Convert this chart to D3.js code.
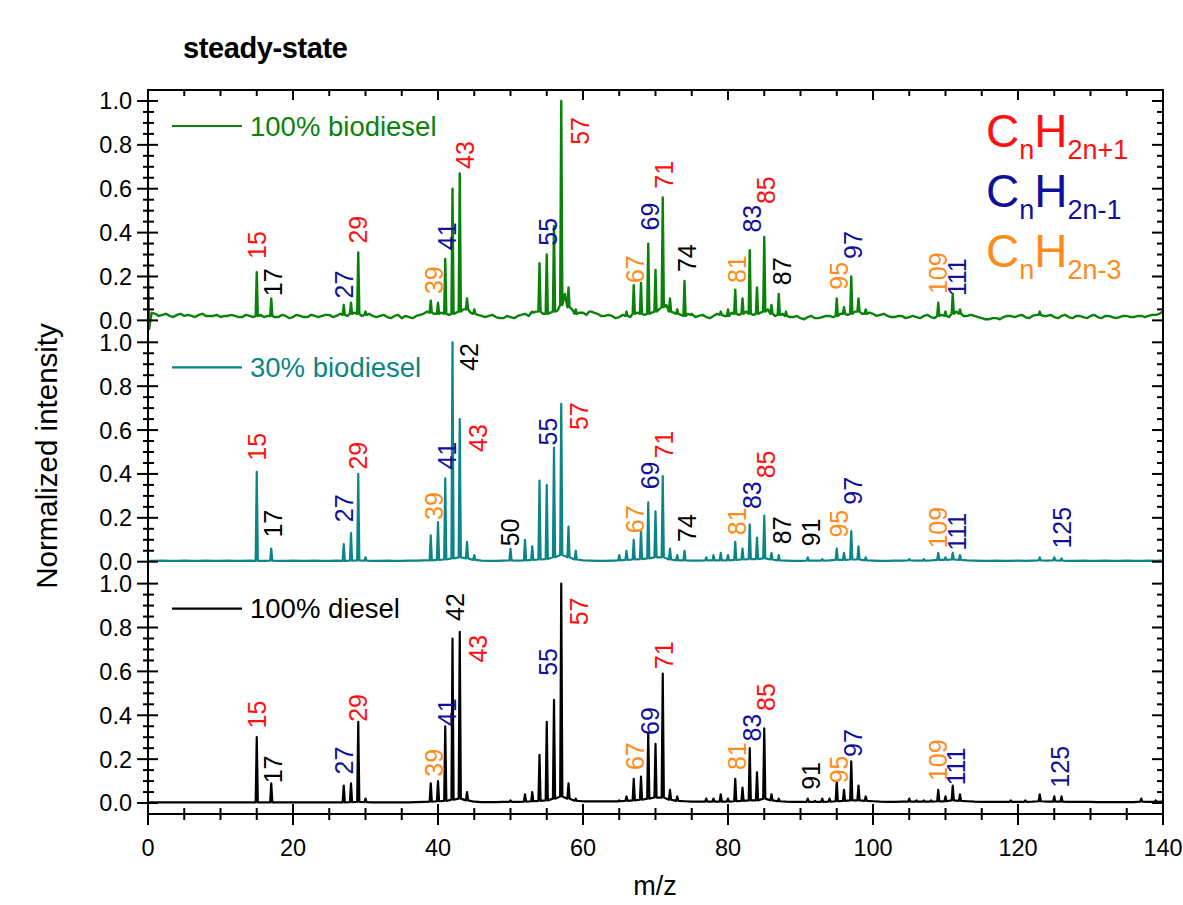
<!DOCTYPE html>
<html><head><meta charset="utf-8">
<script src="https://cdn.jsdelivr.net/npm/d3@7/dist/d3.min.js"></script>
<style>
body{margin:0;background:#fff;}
svg text{font-family:"Liberation Sans",Arial,sans-serif;}
</style></head>
<body><svg id="c" width="1183" height="905"></svg>
<script>
// ---------------- DATA ----------------
const chartTitle = "steady-state";
const xLabel = "m/z";
const yLabel = "Normalized intensity";
const seriesNames = ["100% biodiesel", "30% biodiesel", "100% diesel"];
const xTicks = [0, 20, 40, 60, 80, 100, 120, 140];
const yTicks = [0.0, 0.2, 0.4, 0.6, 0.8, 1.0];
const formulaBase = ["C", "H"];
const formulaSubs = [["n", "2n+1"], ["n", "2n-1"], ["n", "2n-3"]];

// peak intensities [m/z, value]
const peaksBio100 = [[0,0.27],[15,0.22],[17,0.10],[27,0.07],[28,0.08],[29,0.31],[30,0.04],[39,0.09],[40,0.08],[41,0.28],[42,0.60],[43,0.67],[44,0.10],[45,0.05],
  [53,0.04],[54,0.26],[55,0.30],[56,0.43],[57,1.0],[58,0.15],[59,0.05],[61,0.04],[66,0.04],[67,0.16],[68,0.17],[69,0.35],[70,0.23],[71,0.56],[72,0.10],[73,0.05],[74,0.18],[75,0.03],
  [79,0.04],[80,0.05],[81,0.14],[82,0.10],[83,0.32],[84,0.15],[85,0.38],[86,0.07],[87,0.12],[88,0.04],[95,0.10],[96,0.06],[97,0.20],[98,0.10],[99,0.05],
  [109,0.08],[110,0.04],[111,0.12],[112,0.05],[123,0.04]];
const peaksBio30 = [[15,0.41],[17,0.06],[27,0.08],[28,0.13],[29,0.40],[30,0.02],[39,0.12],[40,0.18],[41,0.38],[42,1.0],[43,0.65],[44,0.09],[45,0.03],
  [50,0.06],[52,0.10],[53,0.07],[54,0.37],[55,0.35],[56,0.52],[57,0.72],[58,0.16],[59,0.05],[65,0.03],[66,0.05],[67,0.10],[68,0.14],[69,0.27],[70,0.23],[71,0.39],[72,0.06],[73,0.03],[74,0.05],
  [77,0.02],[78,0.03],[79,0.04],[80,0.03],[81,0.09],[82,0.06],[83,0.17],[84,0.11],[85,0.21],[86,0.04],[87,0.03],[91,0.02],[93,0.012],[95,0.06],[96,0.04],[97,0.14],[98,0.07],[99,0.02],
  [105,0.012],[107,0.012],[109,0.04],[110,0.02],[111,0.04],[112,0.03],[123,0.02],[125,0.02],[126,0.015]];
const peaksDiesel = [[15,0.30],[17,0.09],[27,0.08],[28,0.09],[29,0.37],[30,0.02],[39,0.09],[40,0.10],[41,0.35],[42,0.75],[43,0.78],[44,0.05],
  [50,0.012],[52,0.04],[53,0.05],[54,0.22],[55,0.37],[56,0.47],[57,1.0],[58,0.09],[59,0.02],[65,0.012],[66,0.03],[67,0.11],[68,0.12],[69,0.32],[70,0.27],[71,0.59],[72,0.06],[73,0.03],
  [77,0.02],[78,0.02],[79,0.04],[80,0.02],[81,0.11],[82,0.07],[83,0.25],[84,0.14],[85,0.34],[86,0.04],[87,0.02],[91,0.02],[92,0.01],[93,0.02],[94,0.02],[95,0.10],[96,0.06],[97,0.19],[98,0.08],[99,0.03],
  [105,0.02],[106,0.012],[107,0.012],[108,0.012],[109,0.06],[110,0.03],[111,0.08],[112,0.04],[119,0.012],[121,0.012],[123,0.04],[125,0.03],[126,0.03],[137,0.02],[139,0.012]];

// baseline level at each integer m/z 0..140
const floorBio100 = [
 -0.04,0.03,0.025,0.02,0.025,0.02,0.02,0.025,0.02,0.02,
 0.015,0.02,0.02,0.015,0.02,0.02,0.015,0.02,0.015,0.02,
 0.015,0.02,0.015,0.02,0.02,0.025,0.02,0.025,0.03,0.03,
 0.025,0.02,0.02,0.015,0.02,0.01,0.015,0.02,0.03,0.035,
 0.03,0.03,0.03,0.04,0.05,0.03,0.02,0.02,0.015,0.01,
 0.015,0.02,0.03,0.035,0.04,0.03,0.04,0.07,0.06,0.03,
 0.035,0.04,0.03,0.02,0.02,0.015,0.02,0.03,0.03,0.03,
 0.04,0.06,0.04,0.03,0.02,0.025,0.02,0.015,0.02,0.025,
 0.02,0.03,0.03,0.03,0.03,0.04,0.03,0.025,0.02,0.015,
 0.01,0.015,0.01,0.015,0.02,0.02,0.03,0.03,0.04,0.03,
 0.03,0.025,0.02,0.015,0.02,0.015,0.015,0.02,0.015,0.02,
 0.02,0.03,0.03,0.02,0.02,0.01,0.005,0.01,0.015,0.02,
 0.02,0.015,0.02,0.025,0.02,0.015,0.02,0.015,0.02,0.015,
 0.02,0.015,0.02,0.015,0.015,0.02,0.015,0.02,0.02,0.025,
 0.04];
// signal level half-way between integer m/z (m+0.5), m = 0..139 (noisy baseline)
const midBio100 = [
 0.035,0.02,0.03,0.015,0.03,0.025,0.015,0.03,0.02,0.025,
 0.02,0.025,0.015,0.025,0.015,0.025,0.02,0.015,0.025,0.01,
 0.025,0.015,0.025,0.015,0.025,0.015,0.03,0.02,0.035,0.02,
 0.03,0.015,0.025,0.01,0.025,0.02,0.01,0.025,0.04,0.03,
 0.035,0.025,0.035,0.05,0.035,0.025,0.015,0.025,0.01,0.02,
 0.01,0.025,0.02,0.04,0.03,0.035,0.045,0.12,0.05,0.035,
 0.025,0.035,0.02,0.025,0.01,0.025,0.015,0.035,0.025,0.035,
 0.05,0.07,0.035,0.025,0.03,0.015,0.025,0.01,0.03,0.02,
 0.035,0.025,0.04,0.025,0.035,0.05,0.02,0.03,0.015,0.02,
 0.005,0.02,0.01,0.02,0.015,0.03,0.025,0.04,0.03,0.035,
 0.02,0.03,0.015,0.02,0.01,0.02,0.01,0.025,0.01,0.025,
 0.015,0.04,0.02,0.025,0.015,0.005,0.01,0.005,0.02,0.015,
 0.025,0.01,0.025,0.02,0.025,0.01,0.025,0.01,0.02,0.01,
 0.025,0.01,0.02,0.01,0.02,0.015,0.02,0.015,0.025,0.03];
const floorBio30 = [
 0.004,0.004,0.005,0.004,0.004,0.005,0.004,0.004,0.005,0.004,
 0.004,0.005,0.004,0.004,0.005,0.004,0.004,0.005,0.004,0.004,
 0.005,0.004,0.004,0.005,0.004,0.004,0.005,0.004,0.005,0.006,
 0.005,0.004,0.004,0.005,0.004,0.004,0.005,0.005,0.006,0.006,
 0.008,0.01,0.015,0.02,0.015,0.008,0.005,0.004,0.004,0.005,
 0.006,0.005,0.006,0.008,0.01,0.012,0.02,0.03,0.02,0.01,
 0.006,0.005,0.004,0.004,0.005,0.006,0.008,0.01,0.012,0.015,
 0.02,0.02,0.01,0.006,0.006,0.005,0.005,0.006,0.006,0.006,
 0.006,0.008,0.01,0.012,0.012,0.015,0.01,0.006,0.005,0.004,
 0.004,0.005,0.005,0.005,0.006,0.008,0.008,0.01,0.01,0.006,
 0.005,0.004,0.004,0.005,0.005,0.006,0.005,0.005,0.006,0.008,
 0.008,0.01,0.008,0.006,0.005,0.004,0.004,0.005,0.004,0.004,
 0.005,0.004,0.005,0.006,0.005,0.006,0.005,0.004,0.004,0.005,
 0.004,0.004,0.005,0.004,0.004,0.005,0.004,0.004,0.005,0.004,
 0.006];
const floorDiesel = [
 0.003,0.003,0.003,0.003,0.003,0.003,0.003,0.003,0.003,0.003,
 0.003,0.003,0.003,0.003,0.003,0.003,0.003,0.003,0.003,0.003,
 0.003,0.003,0.003,0.003,0.003,0.003,0.003,0.003,0.004,0.005,
 0.004,0.003,0.003,0.003,0.003,0.003,0.003,0.004,0.005,0.006,
 0.008,0.01,0.015,0.02,0.012,0.006,0.004,0.004,0.004,0.005,
 0.005,0.005,0.006,0.008,0.01,0.012,0.02,0.03,0.02,0.01,
 0.008,0.008,0.008,0.008,0.008,0.008,0.01,0.012,0.015,0.02,
 0.025,0.025,0.015,0.01,0.008,0.006,0.006,0.006,0.006,0.006,
 0.006,0.008,0.01,0.012,0.012,0.02,0.012,0.008,0.006,0.005,
 0.005,0.005,0.005,0.005,0.006,0.008,0.01,0.012,0.012,0.01,
 0.008,0.006,0.005,0.005,0.006,0.006,0.006,0.006,0.006,0.008,
 0.008,0.012,0.01,0.008,0.006,0.005,0.005,0.005,0.005,0.005,
 0.005,0.005,0.006,0.008,0.006,0.006,0.006,0.005,0.005,0.005,
 0.005,0.004,0.004,0.004,0.004,0.004,0.004,0.006,0.005,0.005,
 0.006];

// peak annotations: [text, m/z position, label bottom (intensity), ion class]
// classes: "a" CnH2n+1, "b" CnH2n-1, "c" CnH2n-3, "o" other
const labelsBio100 = [["15",15,0.28,"a"],["17",17.3,0.11,"o"],["27",27.1,0.10,"b"],["29",29,0.35,"a"],["39",39.4,0.12,"c"],["41",41.3,0.32,"b"],["43",43.7,0.69,"a"],
  ["55",55.2,0.34,"b"],["57",59.6,0.80,"a"],["67",67.2,0.17,"c"],["69",69.2,0.41,"b"],["71",71.2,0.60,"a"],["74",74.3,0.22,"o"],["81",81.3,0.17,"c"],["83",83.3,0.40,"b"],["85",85.3,0.53,"a"],
  ["87",87.5,0.16,"o"],["95",95.3,0.14,"c"],["97",97.3,0.28,"b"],["109",109,0.12,"c"],["111",111.6,0.11,"b"]];
const labelsBio30 = [["15",15,0.46,"a"],["17",17.3,0.11,"o"],["27",27.1,0.18,"b"],["29",29,0.42,"a"],["39",39.4,0.19,"c"],["41",41.3,0.42,"b"],["42",44.3,0.87,"o"],["43",45.5,0.50,"a"],
  ["50",49.9,0.07,"o"],["55",55.2,0.53,"b"],["57",59.5,0.60,"a"],["67",67.2,0.13,"c"],["69",69.2,0.33,"b"],["71",71.2,0.47,"a"],["74",74.3,0.09,"o"],["81",81.3,0.12,"c"],["83",83.3,0.24,"b"],
  ["85",85.3,0.38,"a"],["87",87.5,0.08,"o"],["91",91.4,0.07,"o"],["95",95.3,0.11,"c"],["97",97.3,0.26,"b"],["109",109,0.06,"c"],["111",111.6,0.05,"b"],["125",126.1,0.06,"b"]];
const labelsDiesel = [["15",15,0.34,"a"],["17",17.3,0.09,"o"],["27",27.1,0.13,"b"],["29",29,0.37,"a"],["39",39.4,0.12,"c"],["41",41.3,0.35,"b"],["42",42.3,0.83,"o"],["43",45.5,0.64,"a"],
  ["55",55.2,0.58,"b"],["57",59.5,0.81,"a"],["67",67.2,0.15,"c"],["69",69.2,0.31,"b"],["71",71.2,0.61,"a"],["81",81.3,0.15,"c"],["83",83.3,0.28,"b"],["85",85.3,0.42,"a"],
  ["91",91.4,0.06,"o"],["95",95.3,0.09,"c"],["97",97.3,0.21,"b"],["109",108.9,0.10,"c"],["111",111.5,0.08,"b"],["125",125.8,0.07,"b"]];

// ---------------- DRAW ----------------
const seriesColors = ["#0a820a", "#0b8585", "#000000"];
const classColors = {a:"#ff1010", b:"#10109a", c:"#ff8c1a", o:"#000000"};
const panels = [
  {name: seriesNames[0], peaks: peaksBio100, floor: floorBio100, mid: midBio100, labels: labelsBio100, color: seriesColors[0], sw: 2.4},
  {name: seriesNames[1], peaks: peaksBio30, floor: floorBio30, mid: null, labels: labelsBio30, color: seriesColors[1], sw: 2.2},
  {name: seriesNames[2], peaks: peaksDiesel, floor: floorDiesel, mid: null, labels: labelsDiesel, color: seriesColors[2], sw: 2.2}
];

const svg = d3.select("#c");
const L = 148, R = 1163, T = 90, B = 814;
const PH = (B - T) / 3;
const x = d3.scaleLinear().domain([0, 140]).range([L, R]);

svg.append("defs").append("clipPath").attr("id", "plotclip")
  .append("rect").attr("x", L).attr("y", T).attr("width", R - L).attr("height", B - T);

const halfW = 0.15;
const legendLevel = 0.886;

panels.forEach((p, i) => {
  const top = T + i * PH;
  const y = d3.scaleLinear().domain([-0.05, 1.05]).range([top + PH, top]);
  const peakMap = new Map(p.peaks.map(d => [d[0], d[1]]));
  const pts = [];
  p.floor.forEach((f, m) => {
    if (peakMap.has(m)) {
      pts.push([m - halfW, f]);
      pts.push([m, peakMap.get(m)]);
      pts.push([m + halfW, f]);
    } else {
      pts.push([m, f]);
    }
    if (p.mid && m < p.mid.length) pts.push([m + 0.5, p.mid[m]]);
  });
  const line = d3.line().x(d => x(d[0])).y(d => y(d[1]));
  const g = svg.append("g").attr("clip-path", "url(#plotclip)");
  g.append("path").attr("d", line(pts)).attr("fill", "none")
    .attr("stroke", p.color).attr("stroke-width", p.sw).attr("stroke-linejoin", "round");

  // legend
  svg.append("line").attr("x1", 172).attr("x2", 242).attr("y1", y(legendLevel)).attr("y2", y(legendLevel))
    .attr("stroke", p.color).attr("stroke-width", 2.2);
  svg.append("text").attr("x", 250).attr("y", y(legendLevel)).attr("dy", "0.35em")
    .attr("font-size", 27.5).attr("fill", p.color).text(p.name);

  // peak labels (rotated)
  p.labels.forEach(l => {
    svg.append("text")
      .attr("transform", `translate(${x(l[1])},${y(l[2])}) rotate(-90)`)
      .attr("dy", "0.36em").attr("text-anchor", "start")
      .attr("font-size", 25).attr("fill", classColors[l[3]]).text(l[0]);
  });

  // left & right axis ticks
  d3.range(0, 21).forEach(k => {
    const v = k * 0.05;
    const isMaj = k % 4 === 0;
    const yy = y(v);
    svg.append("line").attr("x1", L - (isMaj ? 11 : 5)).attr("x2", L + (isMaj ? 10 : 6))
      .attr("y1", yy).attr("y2", yy).attr("stroke", "#000").attr("stroke-width", 2);
    svg.append("line").attr("x1", R - (isMaj ? 11 : 6)).attr("x2", R)
      .attr("y1", yy).attr("y2", yy).attr("stroke", "#000").attr("stroke-width", 2);
  });
  yTicks.forEach(v => {
    svg.append("text").attr("x", L - 16).attr("y", y(v)).attr("dy", "0.36em")
      .attr("text-anchor", "end").attr("font-size", 23.5).attr("fill", "#000")
      .text(v.toFixed(1));
  });
});

// frame
svg.append("rect").attr("x", L).attr("y", T).attr("width", R - L).attr("height", B - T)
  .attr("fill", "none").attr("stroke", "#000").attr("stroke-width", 2);
svg.append("line").attr("x1", L).attr("x2", L).attr("y1", B).attr("y2", B + 11)
  .attr("stroke", "#000").attr("stroke-width", 2);

// x ticks
d3.range(0, 141, 5).forEach(v => {
  const isMaj = v % 20 === 0;
  const xx = x(v);
  svg.append("line").attr("x1", xx).attr("x2", xx).attr("y1", B - (isMaj ? 10 : 6)).attr("y2", B + (isMaj ? 11 : 6))
    .attr("stroke", "#000").attr("stroke-width", 2);
  svg.append("line").attr("x1", xx).attr("x2", xx).attr("y1", T).attr("y2", T + (isMaj ? 10 : 6))
    .attr("stroke", "#000").attr("stroke-width", 2);
});
xTicks.forEach(v => {
  svg.append("text").attr("x", x(v)).attr("y", B + 42).attr("text-anchor", "middle")
    .attr("font-size", 23.5).attr("fill", "#000").text(v);
});

// axis titles
svg.append("text").attr("x", 655).attr("y", 895).attr("text-anchor", "middle")
  .attr("font-size", 27).attr("fill", "#000").text(xLabel);
svg.append("text").attr("transform", `translate(57,${(T + B) / 2 + 4}) rotate(-90)`)
  .attr("text-anchor", "middle").attr("font-size", 29.5).attr("fill", "#000").text(yLabel);
svg.append("text").attr("x", 183).attr("y", 58).attr("font-size", 29).attr("font-weight", "bold")
  .attr("letter-spacing", -0.4).attr("fill", "#000").text(chartTitle);

// formula legend
const fColors = [classColors.a, classColors.b, classColors.c];
formulaSubs.forEach((s, k) => {
  const t = svg.append("text").attr("x", 986).attr("y", 147 + k * 60).attr("fill", fColors[k]);
  t.append("tspan").attr("font-size", 46).text(formulaBase[0]);
  t.append("tspan").attr("font-size", 27).attr("dy", 12).text(s[0]);
  t.append("tspan").attr("font-size", 46).attr("dy", -12).text(formulaBase[1]);
  t.append("tspan").attr("font-size", 27).attr("dy", 12).text(s[1]);
});
</script></body></html>
